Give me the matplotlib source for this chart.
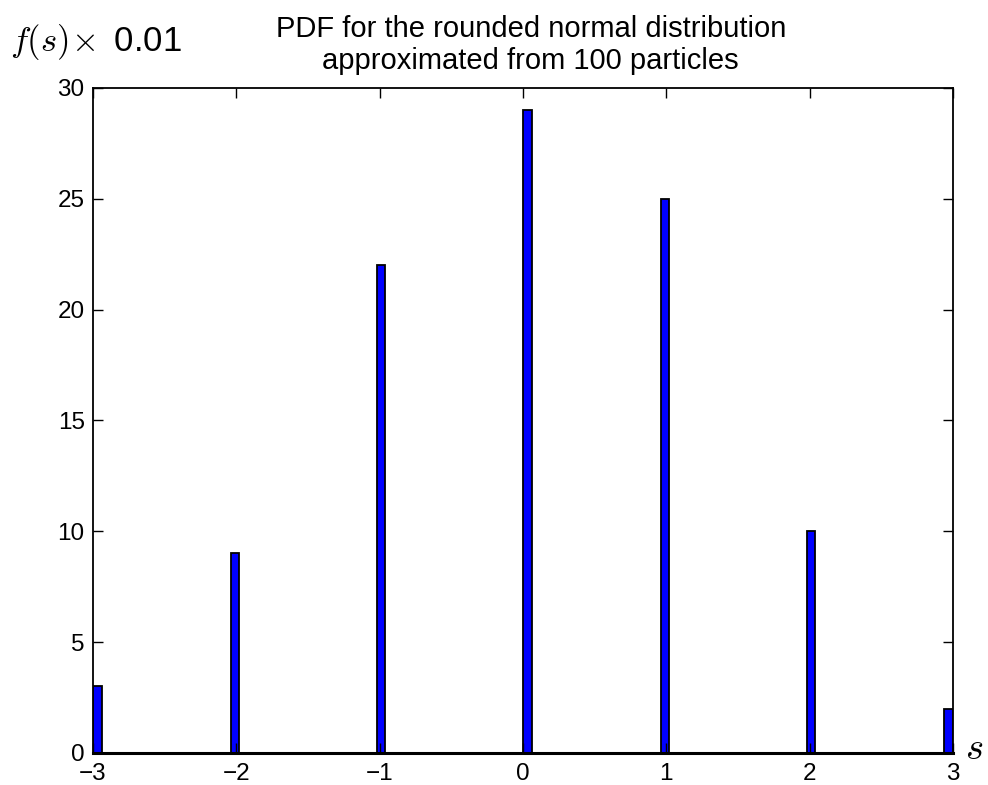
import matplotlib
matplotlib.use('Agg')
import matplotlib.pyplot as plt
import numpy as np

# rounded values of s and how many of the 100 particles landed on each
s_values = [-3, -2, -1, 0, 1, 2, 3]
counts = [3, 9, 22, 29, 25, 10, 2]
x_ticks = [-3, -2, -1, 0, 1, 2, 3]
y_ticks = [0, 5, 10, 15, 20, 25, 30]

plt.rcParams['font.family'] = ['Liberation Sans', 'DejaVu Sans']
plt.rcParams['mathtext.fontset'] = 'cm'

fig = plt.figure(figsize=(9.88, 7.85), dpi=100)
ax = fig.add_axes([0.0941, 0.0408, 0.8705, 0.8471])

# old-style 100 bin histogram over [-3, 3]
ax.hist(s_values, bins=100, range=(-3, 3), weights=counts,
        facecolor='blue', edgecolor='black', linewidth=1.3)

ax.set_xlim(-3, 3)
ax.set_ylim(0, 30)
ax.set_xticks(x_ticks)
ax.set_yticks(y_ticks)
ax.tick_params(direction='in', top=True, right=True, length=7, width=1,
               labelsize=17.5)
ax.tick_params(axis='x', pad=7)
ax.tick_params(axis='y', pad=6)
for sp in ax.spines.values():
    sp.set_linewidth(1.3)
ax.spines['bottom'].set_linewidth(2.2)

ax.set_title('PDF for the rounded normal distribution\napproximated from 100 particles',
             fontsize=21, x=0.509, pad=14, linespacing=1.15)
fig.text(0.010, 0.935, r'$f(s)\!\times$ 0.01', fontsize=25, ha='left', va='baseline')
fig.text(0.977, 0.033, r'$s$', fontsize=28, ha='left', va='baseline')

plt.savefig('out.png', dpi=100)
